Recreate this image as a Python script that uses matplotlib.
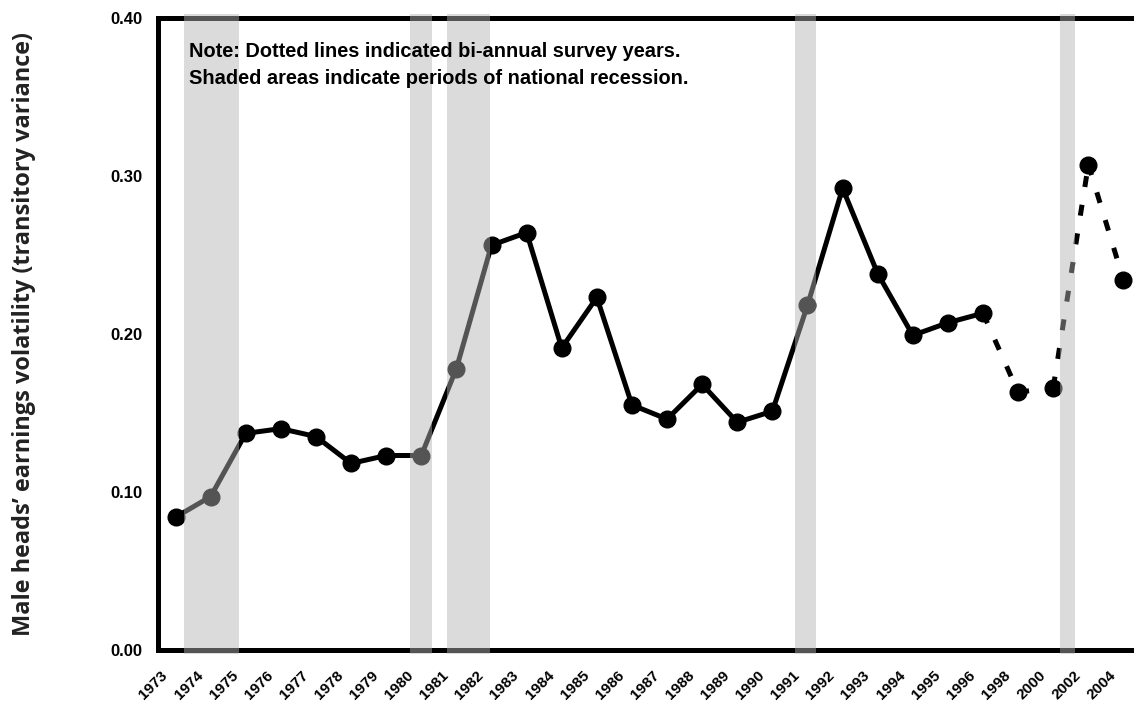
import matplotlib
matplotlib.use('Agg')
import matplotlib.pyplot as plt
from matplotlib.axes import Axes
from matplotlib.figure import Figure
from matplotlib.transforms import ScaledTranslation

years = ['1973', '1974', '1975', '1976', '1977', '1978', '1979', '1980', '1981', '1982',
         '1983', '1984', '1985', '1986', '1987', '1988', '1989', '1990', '1991', '1992',
         '1993', '1994', '1995', '1996', '1998', '2000', '2002', '2004']
volatility = [0.084, 0.097, 0.137, 0.140, 0.135, 0.118, 0.123, 0.123, 0.178, 0.256,
              0.264, 0.191, 0.223, 0.155, 0.146, 0.168, 0.144, 0.151, 0.218, 0.292,
              0.238, 0.199, 0.207, 0.213, 0.163, 0.166, 0.307, 0.234]
# first year of the bi-annual survey (dotted part)
biannual_start = 23

# recession bands, in category positions
recessions = [(0.24, 1.80), (6.67, 7.31), (7.72, 8.97), (17.64, 18.25), (25.19, 25.63)]

note = ('Note: Dotted lines indicated bi-annual survey years.\n'
        'Shaded areas indicate periods of national recession.')

plt.rcParams['font.family'] = ['Liberation Sans', 'DejaVu Sans']
plt.rcParams['font.weight'] = 'bold'

figure: Figure = plt.figure(figsize=(11.34, 7.04), dpi=100)
ax: Axes = figure.add_axes([0.1393, 0.0767, 0.8669, 0.8984])

x = list(range(len(years)))

ax.plot(x[:biannual_start + 1], volatility[:biannual_start + 1], color='black',
        linewidth=3.6, zorder=2)
# dotted segments, each one starts its dash pattern anew (like Excel does)
for i in range(biannual_start, len(years) - 1):
    ax.plot(x[i:i + 2], volatility[i:i + 2], color='black', linewidth=3.6,
            linestyle=(0, (2.2, 3.6)), dash_capstyle='butt', zorder=2)
ax.plot(x, volatility, linestyle='none', marker='o', markersize=12,
        color='black', zorder=3)

for start, end in recessions:
    ax.axvspan(start, end, ymin=-0.006, ymax=1.006, color=(0.70, 0.70, 0.70),
               alpha=0.475, linewidth=0, zorder=5, clip_on=False)

ax.set_xlim(-0.5, len(years) - 0.5)
ax.set_ylim(0, 0.40)
ax.set_yticks([0.0, 0.1, 0.2, 0.3, 0.4])
ax.set_yticklabels(['%.2f' % v for v in [0.0, 0.1, 0.2, 0.3, 0.4]], fontsize=12,
                   fontweight='bold')
ax.tick_params(axis='both', length=0)
ax.tick_params(axis='y', pad=11)
ax.tick_params(axis='x', pad=17)
ax.set_xticks(x)
ax.set_xticklabels(years, rotation=45, ha='right', va='center', rotation_mode='anchor',
                   fontsize=11, fontweight='bold')
# nudge the year labels to the left, after tick_params (it resets transforms)
shift = ScaledTranslation(-10 / 100, 0, figure.dpi_scale_trans)
for label in ax.get_xticklabels():
    label.set_transform(label.get_transform() + shift)

for side in ['left', 'top', 'bottom', 'right']:
    ax.spines[side].set_linewidth(3.6)
    ax.spines[side].set_color('black')

ax.set_ylabel('Male heads\u2019 earnings volatility (transitory variance)',
              fontsize=16.9, fontweight='bold', family=['Open Sans', 'DejaVu Sans'],
              color='#222222')
ax.yaxis.set_label_coords(-0.124, 0.5)

ax.text(0.0315, 0.961, note, transform=ax.transAxes, fontsize=14.4, fontweight='bold',
        va='top', ha='left', linespacing=1.55, zorder=6)

figure.savefig('out.png', dpi=100)
